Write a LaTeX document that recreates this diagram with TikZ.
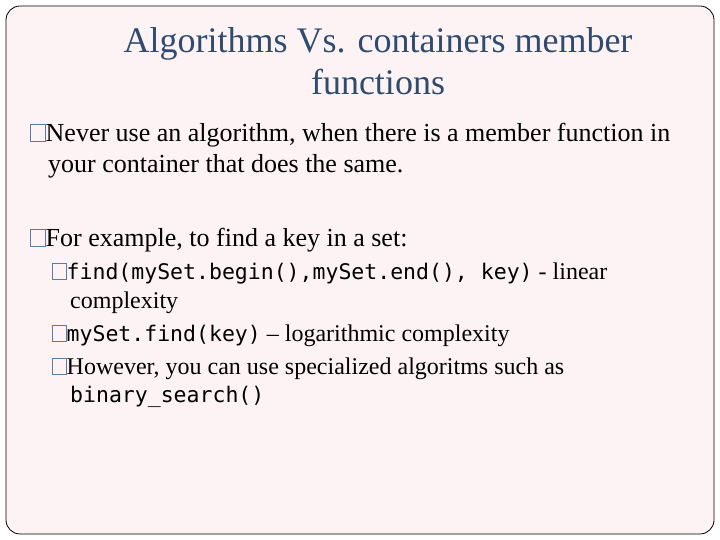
\documentclass[tikz,border=0pt]{standalone}
\usepackage{fontspec}
\setmainfont{Liberation Serif}
\setmonofont{DejaVu Sans Mono}
\definecolor{bg}{HTML}{FDF3F5}
\definecolor{ttl}{HTML}{2F4B6E}
\definecolor{bul}{HTML}{5A7AA8}
\newcommand{\bx}{\tikz[baseline=0pt]\draw[bul,line width=1pt](0.5pt,0.5pt) rectangle (15pt,17pt);}
\newcommand{\sbx}{\tikz[baseline=0pt]\draw[bul,line width=1pt](0.5pt,0.5pt) rectangle (14pt,16pt);}
\newcommand{\mono}[1]{{\fontsize{21.5}{25}\selectfont\ttfamily #1}}
\begin{document}
\begin{tikzpicture}[x=1pt,y=1pt,
  ln/.style={anchor=base west,inner sep=0pt,font=\fontsize{26}{30}\selectfont},
  sl/.style={anchor=base west,inner sep=0pt,font=\fontsize{24}{28}\selectfont},
  tt/.style={anchor=base,inner sep=0pt,text=ttl,font=\fontsize{36}{40}\selectfont}]
\useasboundingbox (0,0) rectangle (720,540);
\draw[fill=bg,line width=0.8pt,rounded corners=14pt] (6,6) rectangle (714,534);
\node[tt] (t1) at (378,487) {Algorithms Vs. containers member};
\node[tt] (t2) at (378,445) {functions};
\node[ln] (b1) at (30,398) {\bx Never use an algorithm, when there is a member function in};
\node[ln] (b1b) at (48,367) {your container that does the same.};
\node[ln] (b2) at (30,293) {\bx For example, to find a key in a set:};
\node[sl] (s1) at (52,260) {\sbx\mono{find(mySet.begin(),mySet.end(), key)} - linear};
\node[sl] (s1b) at (70,231) {complexity};
\node[sl] (s2) at (52,198) {\sbx\mono{mySet.find(key)} – logarithmic complexity};
\node[sl] (s3) at (52,165) {\sbx However, you can use specialized algoritms such as};
\node[sl] (s3b) at (70,137) {\mono{binary\_search()}};
\end{tikzpicture}
\end{document}
